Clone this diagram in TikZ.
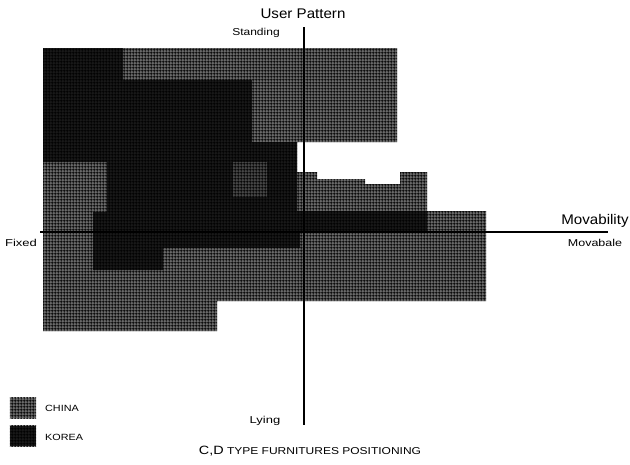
\documentclass[tikz,border=0pt]{standalone}
\usepackage{fontspec}
\setmainfont{Liberation Sans}
\usepackage{graphicx}
\usetikzlibrary{patterns.meta}
\tikzdeclarepattern{
  name=halftone,
  type=uncolored,
  bounding box={(0,0) and (2.8pt,2.8pt)},
  tile size={(2.8pt,2.8pt)},
  code={
    \draw[line width=0.8pt] (0,1.4pt) -- (2.8pt,1.4pt);
    \draw[line width=0.8pt] (1.4pt,0) -- (1.4pt,2.8pt);
  }
}
\newcommand\widetext[2]{\scalebox{#1}[1]{#2}}
\begin{document}
\begin{tikzpicture}[x=1pt,y=-1pt,
  china/.style={fill=black!58},
  korea/.style={fill=black!90},
  midtone/.style={fill=black!72},
  tone/.style={pattern={halftone},pattern color=black},
  axisline/.style={draw=black,line width=#1},
  biglabel/.style={font=\fontsize{14}{16}\selectfont,inner sep=0pt},
  smalllabel/.style={font=\fontsize{10}{12}\selectfont,inner sep=0pt},
  legendbox/.style={minimum width=26pt,minimum height=20pt,inner sep=0pt}
]
\useasboundingbox (0,0) rectangle (630,464);

% CHINA region (outer outline)
\path[china] (43,48) -- (397,48) -- (397,142) -- (297,142) -- (297,172)
  -- (317,172) -- (317,179) -- (365,179) -- (365,184) -- (400,184)
  -- (400,172) -- (427,172) -- (427,211) -- (486,211) -- (486,301)
  -- (217,301) -- (217,331) -- (43,331) -- cycle;
% KOREA region
\path[korea] (43,48) -- (123,48) -- (123,80) -- (252,80) -- (252,142)
  -- (297,142) -- (297,211) -- (427,211) -- (427,233) -- (300,233)
  -- (300,248) -- (163,248) -- (163,270) -- (93,270) -- (93,212)
  -- (107,212) -- (107,162) -- (43,162) -- cycle;
% slightly lighter patch inside
\path[midtone] (233,162) rectangle (267,197);
% halftone texture over everything
\path[tone] (43,48) -- (397,48) -- (397,142) -- (297,142) -- (297,172)
  -- (317,172) -- (317,179) -- (365,179) -- (365,184) -- (400,184)
  -- (400,172) -- (427,172) -- (427,211) -- (486,211) -- (486,301)
  -- (217,301) -- (217,331) -- (43,331) -- cycle;

% axes
\coordinate (vtop) at (304,27);
\coordinate (vbot) at (304,425);
\coordinate (hleft) at (40,232);
\coordinate (hright) at (608,232);
\draw[axisline=2.2pt] (vtop) -- (vbot);
\draw[axisline=1.8pt] (hleft) -- (hright);

% axis labels
\node[biglabel] (userpattern) at (303,14) {\widetext{1.08}{User Pattern}};
\node[biglabel] (movability) at (595,221) {\widetext{1.08}{Movability}};
\node[smalllabel] (standing) at (256,33) {\widetext{1.2}{Standing}};
\node[smalllabel] (movable) at (595,243) {\widetext{1.25}{Movabale}};
\node[smalllabel] (fixed) at (21,243) {\widetext{1.3}{Fixed}};
\node[smalllabel] (lying) at (265,421) {\widetext{1.3}{Lying}};

% legend
\node[legendbox,china] (chinabox) at (23,408) {};
\path[tone] (chinabox.north west) rectangle (chinabox.south east);
\node[legendbox,korea] (koreabox) at (23,436) {};
\path[tone] (koreabox.north west) rectangle (koreabox.south east);
\node[smalllabel,anchor=west] (chinatext) at (45,408) {\widetext{1.2}{\fontsize{9}{11}\selectfont CHINA}};
\node[smalllabel,anchor=west] (koreatext) at (45,437) {\widetext{1.2}{\fontsize{9}{11}\selectfont KOREA}};

% caption
\node[smalllabel] (caption) at (310,451) {\widetext{1.2}{{\fontsize{12}{14}\selectfont C,D} TYPE FURNITURES POSITIONING}};
\end{tikzpicture}
\end{document}
